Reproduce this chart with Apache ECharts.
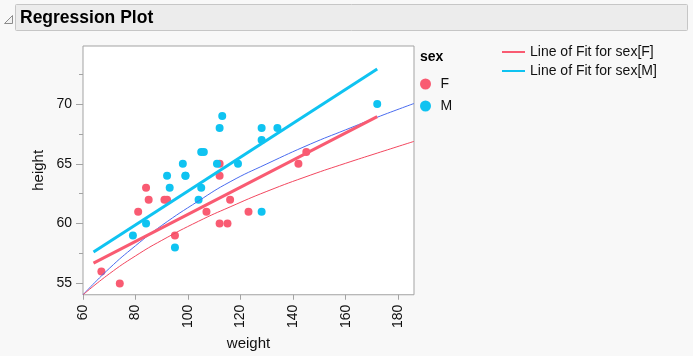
<!DOCTYPE html>
<html>
<head>
<meta charset="utf-8">
<script src="https://cdn.jsdelivr.net/npm/echarts@6/dist/echarts.min.js"></script>
<style>
html,body{margin:0;padding:0;background:#f8f8f8;}
#c{width:693px;height:356px;}
</style>
</head>
<body>
<div id="c"></div>
<script>
// ---- data (Big Class: weight vs height by sex) ----
const weightF = [95,123,74,145,64,112,107,67,81,91,142,84,85,92,112,112,115,116];
const heightF = [59,61,55,66,52,60,61,56,61,62,65,63,62,62,64,65,60,62];
const weightM = [84,128,79,98,105,95,79,93,99,119,92,112,99,113,128,111,105,104,106,128,134,172];
const heightM = [60,61,51,65,63,58,59,63,64,65,64,68,64,69,67,65,66,62,66,68,68,70];

// linear fit lines (end points)
const fitX = [64, 172];
const fitF = [56.7, 68.95];
const fitM = [57.63, 72.94];

// thin curves
const curveX = [60, 70, 80, 90, 104, 116, 130, 146.5, 160, 172, 186];
const curveBlue = [54.05, 56.25, 58.15, 59.85, 61.9, 63.5, 65.0, 66.65, 67.85, 68.9, 70.05];
const curveRed = [54.05, 55.8, 57.3, 58.6, 60.2, 61.4, 62.7, 64.05, 65.05, 65.9, 66.88];

const xTicks = [60, 80, 100, 120, 140, 160, 180];
const yTicks = [55, 60, 65, 70];
const yMinor = [57.5, 62.5, 67.5, 72.5];

const legendSex = ['F', 'M'];
const legendFit = ['Line of Fit for sex[F]', 'Line of Fit for sex[M]'];

const colF = '#f95b72', colM = '#0fc3f1', colBlueThin = '#4a6cef', colRedThin = '#f2475f';
const FONT = 'Liberation Sans';

const zip = (xs, ys) => xs.map((x, i) => [x, ys[i]]);

const chart = echarts.init(document.getElementById('c'));
chart.setOption({
  animation: false,
  backgroundColor: '#f8f8f8',
  textStyle: { fontFamily: FONT },
  graphic: [
    { type: 'rect', shape: { x: 15.5, y: 4.5, width: 672, height: 26, r: 1 },
      style: { fill: '#ececec', stroke: '#c6c6c6', lineWidth: 1 } },
    { type: 'polygon', shape: { points: [[4.5, 23.5], [12.5, 15.5], [12.5, 23.5]] },
      style: { fill: '#f2f2f2', stroke: '#8c8c8c', lineWidth: 1 } },
    { type: 'text', left: 20, top: 9,
      style: { text: 'Regression Plot', font: 'bold 17.5px "Liberation Sans"', fill: '#000' } },
    { type: 'text', left: 420, top: 50,
      style: { text: 'sex', font: 'bold 14px "Liberation Sans"', fill: '#000' } }
  ],
  grid: { left: 83, top: 46, width: 331, height: 250, show: true,
          backgroundColor: '#ffffff', borderColor: '#a3a3a3', borderWidth: 1, containLabel: false },
  legend: [
    { data: legendSex, orient: 'vertical', left: 415, top: 72, icon: 'circle',
      itemWidth: 20, itemHeight: 11, itemGap: 8,
      textStyle: { fontSize: 14, color: '#111', fontFamily: FONT, lineHeight: 14 } },
    { data: legendFit, orient: 'vertical', left: 497, top: 39, icon: 'rect',
      itemWidth: 23, itemHeight: 2, itemGap: 3,
      textStyle: { fontSize: 14, color: '#111', fontFamily: FONT, lineHeight: 16 } }
  ],
  xAxis: {
    type: 'value', min: 60, max: 186,
    name: 'weight', nameLocation: 'middle', nameGap: 31,
    nameTextStyle: { fontSize: 15, color: '#111', fontFamily: FONT },
    axisLine: { show: false },
    splitLine: { show: false },
    axisTick: { show: true, length: 5, customValues: xTicks, lineStyle: { color: '#a3a3a3' } },
    axisLabel: { rotate: 90, margin: 10, fontSize: 14, color: '#111', customValues: xTicks, fontFamily: FONT }
  },
  yAxis: [
    { type: 'value', min: 54.05, max: 74.86, position: 'left',
      name: 'height', nameLocation: 'middle', nameGap: 37, nameRotate: 90,
      nameTextStyle: { fontSize: 15, color: '#111', fontFamily: FONT },
      axisLine: { show: false },
      splitLine: { show: false },
      axisTick: { show: true, length: 7, customValues: yTicks, lineStyle: { color: '#a3a3a3' } },
      axisLabel: { margin: 11, fontSize: 14, color: '#111', customValues: yTicks, fontFamily: FONT } },
    { type: 'value', min: 54.05, max: 74.86, position: 'left', offset: 0,
      axisLine: { show: false }, splitLine: { show: false },
      axisTick: { show: true, length: 4, customValues: yMinor, lineStyle: { color: '#a3a3a3' } },
      axisLabel: { show: false } }
  ],
  series: [
    { name: 'F', type: 'scatter', data: zip(weightF, heightF), symbolSize: 8,
      itemStyle: { color: colF, opacity: 1 }, z: 3 },
    { name: 'M', type: 'scatter', data: zip(weightM, heightM), symbolSize: 8,
      itemStyle: { color: colM, opacity: 1 }, z: 3 },
    { name: 'curveBlue', type: 'line', data: zip(curveX, curveBlue), smooth: true, showSymbol: false,
      lineStyle: { color: colBlueThin, width: 1 }, z: 4 },
    { name: 'curveRed', type: 'line', data: zip(curveX, curveRed), smooth: true, showSymbol: false,
      lineStyle: { color: colRedThin, width: 1 }, z: 4 },
    { name: 'Line of Fit for sex[F]', type: 'line', data: zip(fitX, fitF), showSymbol: false,
      color: colF, lineStyle: { color: colF, width: 3 }, z: 5 },
    { name: 'Line of Fit for sex[M]', type: 'line', data: zip(fitX, fitM), showSymbol: false,
      color: colM, lineStyle: { color: colM, width: 3 }, z: 5 }
  ]
});
</script>
</body>
</html>
